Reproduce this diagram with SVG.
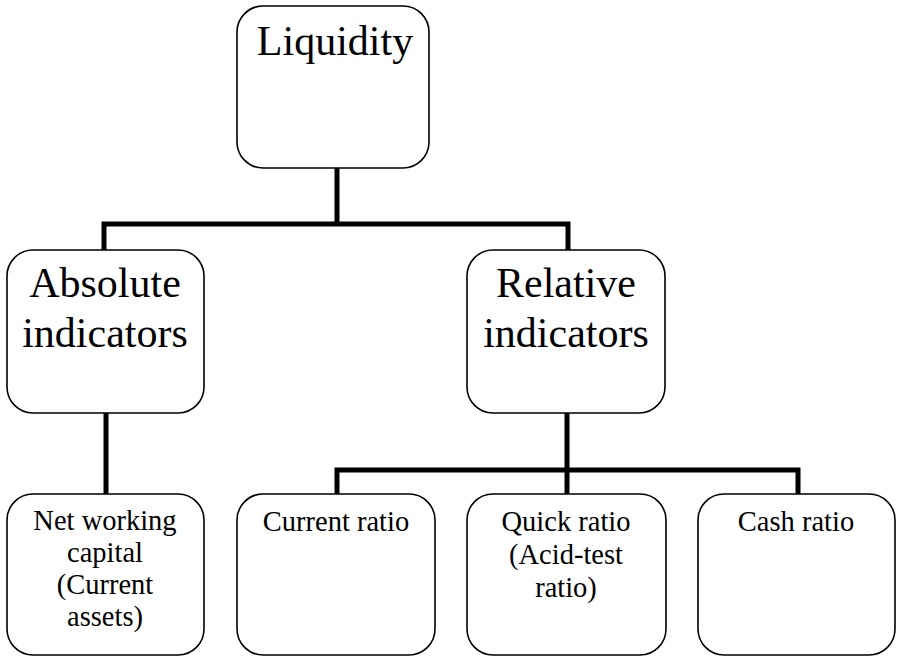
<svg xmlns="http://www.w3.org/2000/svg" width="897" height="657" viewBox="0 0 897 657" font-family="Liberation Serif, Times New Roman, serif">
<style>
.box{fill:#fff;stroke:#000;stroke-width:1.6}
.conn{fill:none;stroke:#000;stroke-width:5;stroke-linejoin:miter;stroke-linecap:butt}
.big{font-size:42px;fill:#000;text-anchor:middle}
.small{font-size:28.5px;fill:#000;text-anchor:middle}
</style>
<rect width="897" height="657" fill="#fff"/>
<g id="connectors">
<path class="conn" d="M337 168 V224 M104 251 V224 H568 V251"/>
<path class="conn" d="M106 413 V495"/>
<path class="conn" d="M567 413 V470 M337 495 V470 H798 V495 M567 470 V495"/>
</g>
<g id="liquidity">
<rect class="box" x="237" y="6" width="192" height="162" rx="26"/>
<text class="big" x="335" y="55">Liquidity</text>
</g>
<g id="absolute">
<rect class="box" x="7" y="250" width="197" height="163" rx="26"/>
<text class="big" x="105" y="297">Absolute</text>
<text class="big" x="105" y="347">indicators</text>
</g>
<g id="relative">
<rect class="box" x="467" y="250" width="198" height="163" rx="26"/>
<text class="big" x="566" y="297">Relative</text>
<text class="big" x="566" y="347">indicators</text>
</g>
<g id="net-working-capital">
<rect class="box" x="7" y="494" width="197" height="161" rx="26"/>
<text class="small" x="105" y="530">Net working</text>
<text class="small" x="105" y="562">capital</text>
<text class="small" x="105" y="594">(Current</text>
<text class="small" x="105" y="626">assets)</text>
</g>
<g id="current-ratio">
<rect class="box" x="237" y="494" width="198" height="161" rx="26"/>
<text class="small" x="336" y="531">Current ratio</text>
</g>
<g id="quick-ratio">
<rect class="box" x="467" y="494" width="199" height="161" rx="26"/>
<text class="small" x="566" y="531">Quick ratio</text>
<text class="small" x="566" y="564">(Acid-test</text>
<text class="small" x="566" y="597">ratio)</text>
</g>
<g id="cash-ratio">
<rect class="box" x="698" y="494" width="197" height="161" rx="26"/>
<text class="small" x="796" y="531">Cash ratio</text>
</g>
</svg>
